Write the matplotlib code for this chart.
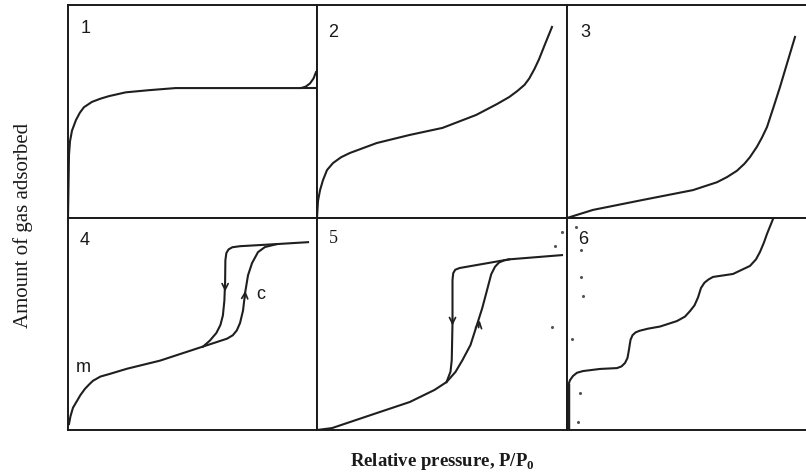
import numpy as np
import matplotlib.pyplot as plt

plt.rcParams["font.family"] = "serif"
plt.rcParams["font.serif"] = ["Liberation Serif", "DejaVu Serif"]
plt.rcParams["mathtext.fontset"] = "custom"
plt.rcParams["mathtext.rm"] = "Liberation Serif"
plt.rcParams["mathtext.bf"] = "Liberation Serif:bold"

# isotherm traces (x = P/P0, y = amount, both 0..1 per panel)
t1_x = [0, 0.004, 0.008, 0.016, 0.032, 0.048, 0.064, 0.096, 0.13, 0.164, 0.232, 0.324, 0.432,
        0.936, 0.955, 0.972, 0.986, 0.996]
t1_y = [0.0, 0.296, 0.36, 0.41, 0.46, 0.495, 0.52, 0.545, 0.56, 0.572, 0.59, 0.60, 0.61,
        0.61, 0.617, 0.632, 0.655, 0.685]
t1_flat_x = [0.936, 1.0]
t1_flat_y = [0.61, 0.61]

t2_x = [0, 0.004, 0.012, 0.024, 0.04, 0.064, 0.096, 0.131, 0.239, 0.371, 0.502, 0.637, 0.72,
        0.769, 0.80, 0.83, 0.849, 0.87, 0.888, 0.91, 0.94]
t2_y = [0.0, 0.08, 0.13, 0.178, 0.225, 0.258, 0.285, 0.305, 0.352, 0.39, 0.423, 0.484, 0.535,
        0.568, 0.595, 0.625, 0.655, 0.70, 0.745, 0.81, 0.897]

t3_x = [0, 0.104, 0.304, 0.504, 0.60, 0.64, 0.68, 0.71, 0.732, 0.76, 0.78, 0.80, 0.826, 0.852,
        0.88, 0.912]
t3_y = [0.0, 0.038, 0.085, 0.131, 0.168, 0.192, 0.222, 0.255, 0.286, 0.335, 0.378, 0.427, 0.52,
        0.615, 0.725, 0.85]

t4_ads_x = [0.004, 0.01, 0.02, 0.036, 0.05, 0.068, 0.085, 0.10, 0.13, 0.169, 0.237, 0.369, 0.53,
            0.59, 0.639, 0.662, 0.678, 0.691, 0.703, 0.711, 0.723, 0.739, 0.763, 0.791, 0.839,
            0.964]
t4_ads_y = [0.028, 0.065, 0.105, 0.137, 0.165, 0.194, 0.215, 0.232, 0.252, 0.265, 0.289, 0.327,
            0.389, 0.412, 0.431, 0.447, 0.47, 0.505, 0.564, 0.645, 0.73, 0.787, 0.839, 0.863,
            0.877, 0.886]
t4_des_x = [0.839, 0.691, 0.66, 0.645, 0.636, 0.632, 0.631, 0.628, 0.622, 0.612, 0.596, 0.57,
            0.542]
t4_des_y = [0.877, 0.867, 0.862, 0.852, 0.835, 0.80, 0.70, 0.61, 0.54, 0.495, 0.458, 0.422,
            0.393]

t5_ads_x = [0, 0.06, 0.239, 0.371, 0.47, 0.518, 0.554, 0.582, 0.614, 0.637, 0.661, 0.677,
            0.697, 0.712, 0.728, 0.748, 0.769, 0.98]
t5_ads_y = [0.0, 0.009, 0.08, 0.132, 0.189, 0.226, 0.274, 0.33, 0.401, 0.486, 0.575, 0.646,
            0.735, 0.77, 0.79, 0.8, 0.805, 0.825]
t5_des_x = [0.769, 0.57, 0.553, 0.545, 0.542, 0.542, 0.539, 0.534, 0.518]
t5_des_y = [0.805, 0.764, 0.756, 0.74, 0.708, 0.505, 0.33, 0.275, 0.226]

t6_x = [0.004, 0.004, 0.012, 0.024, 0.04, 0.064, 0.132, 0.2, 0.218, 0.232, 0.242, 0.248, 0.254,
        0.262, 0.274, 0.29, 0.324, 0.372, 0.44, 0.472, 0.492, 0.51, 0.524, 0.536, 0.55, 0.566,
        0.584, 0.664, 0.732, 0.756, 0.772, 0.788, 0.80, 0.824]
t6_y = [0.005, 0.208, 0.235, 0.255, 0.27, 0.278, 0.288, 0.292, 0.3, 0.316, 0.34, 0.38, 0.425,
        0.447, 0.46, 0.468, 0.478, 0.488, 0.514, 0.535, 0.561, 0.588, 0.625, 0.67, 0.695, 0.71,
        0.722, 0.736, 0.774, 0.805, 0.84, 0.885, 0.925, 0.995]

# scan specks
dot5_x = [0.98, 0.952, 0.94]
dot5_y = [0.934, 0.868, 0.486]
dot6_x = [0.036, 0.056, 0.056, 0.064, 0.02, 0.052, 0.044]
dot6_y = [0.958, 0.849, 0.722, 0.632, 0.429, 0.175, 0.038]

panel_labels = ["1", "2", "3", "4", "5", "6"]

W, H = 806, 476
fig = plt.figure(figsize=(W / 100, H / 100), dpi=100)

cols = [(68, 317), (317, 567), (567, 817)]
rows = [(5, 218), (218, 430)]
axes = []
for r, (top, bot) in enumerate(rows):
    for c, (left, right) in enumerate(cols):
        ax = fig.add_axes([left / W, 1 - bot / H, (right - left) / W, (bot - top) / H])
        ax.set_xlim(0, 1)
        ax.set_ylim(0, 1)
        ax.set_xticks([])
        ax.set_yticks([])
        for s in ax.spines.values():
            s.set_linewidth(1.4)
            s.set_color("#1a1a1a")
        axes.append(ax)

lc = "#1f1f1f"
lw = 1.5
kw = dict(color=lc, lw=lw, solid_joinstyle="round")
axes[0].plot(t1_x, t1_y, **kw)
axes[0].plot(t1_flat_x, t1_flat_y, **kw)
axes[1].plot(t2_x, t2_y, **kw)
axes[2].plot(t3_x, t3_y, **kw)
axes[3].plot(t4_ads_x, t4_ads_y, **kw)
axes[3].plot(t4_des_x, t4_des_y, **kw)
axes[4].plot(t5_ads_x, t5_ads_y, **kw)
axes[4].plot(t5_des_x, t5_des_y, **kw)
axes[5].plot(t6_x, t6_y, **kw)
axes[5].plot([0.004, 0.004], [0.0, 0.21], color=lc, lw=2.5)
axes[4].scatter(dot5_x, dot5_y, s=1.5, color="#555555")
axes[5].scatter(dot6_x, dot6_y, s=1.5, color="#555555")

# hysteresis arrows
arr = dict(arrowstyle="->", color=lc, lw=1.2, mutation_scale=11)
axes[3].annotate("", xy=(0.631, 0.64), xytext=(0.631, 0.70), arrowprops=arr)
axes[3].annotate("", xy=(0.713, 0.67), xytext=(0.709, 0.61), arrowprops=arr)
axes[4].annotate("", xy=(0.542, 0.48), xytext=(0.542, 0.54), arrowprops=arr)
axes[4].annotate("", xy=(0.652, 0.53), xytext=(0.645, 0.47), arrowprops=arr)

lab_pos = [(0.072, 0.89), (0.064, 0.87), (0.072, 0.87), (0.068, 0.895), (0.064, 0.905), (0.064, 0.90)]
for ax, lab, (px, py) in zip(axes, panel_labels, lab_pos):
    fam = "serif" if lab == "5" else "Liberation Sans"
    ax.text(px, py, lab, transform=ax.transAxes, ha="center", va="center",
            fontsize=13, family=fam, color="#1a1a1a")

axes[3].text(0.06, 0.294, "m", transform=axes[3].transAxes, ha="center", va="center",
             fontsize=13, family="Liberation Sans", color="#1a1a1a")
axes[3].text(0.775, 0.64, "c", transform=axes[3].transAxes, ha="center", va="center",
             fontsize=13, family="Liberation Sans", color="#1a1a1a")

fig.text(23 / W, 1 - 225 / H, "Amount of gas adsorbed", rotation=90, ha="center", va="center",
         fontsize=15, color="#1a1a1a")
fig.text(442 / W, 1 - 462 / H, r"Relative pressure, P/P$_\mathbf{0}$", ha="center", va="center",
         fontsize=13.5, fontweight="bold", color="#1a1a1a")

fig.savefig("out.png", dpi=100)
